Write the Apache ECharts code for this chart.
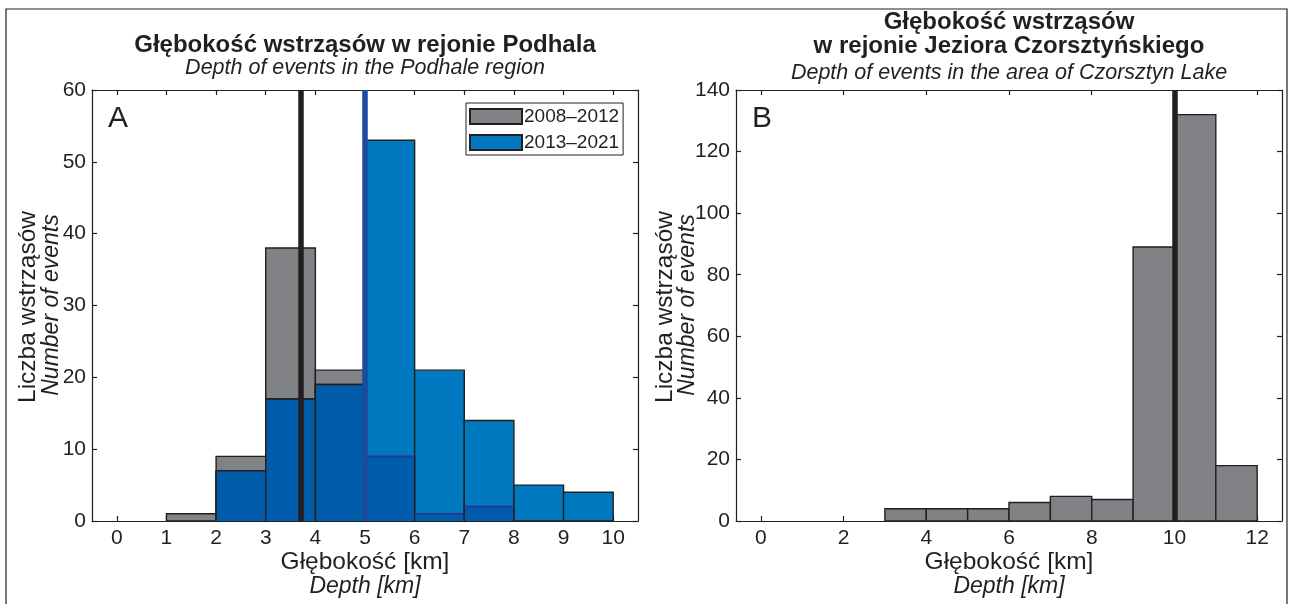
<!DOCTYPE html>
<html><head><meta charset="utf-8">
<script src="https://cdn.jsdelivr.net/npm/echarts@6/dist/echarts.min.js"></script>
<style>html,body{margin:0;padding:0;background:#fff}#c{width:1289px;height:604px}</style>
</head><body><div id="c"></div>
<script>
// ---- data ----
const binEdgesA = [0,1,2,3,4,5,6,7,8,9,10];
const counts2008 = [0,1,9,38,21,9,1,2,0,0];
const counts2013 = [0,0,7,17,19,53,21,14,5,4];
const binEdgesB = [0,1,2,3,4,5,6,7,8,9,10,11,12];
const countsB = [0,0,0,4,4,4,6,8,7,89,132,18];
const xTicksA = [0,1,2,3,4,5,6,7,8,9,10];
const yTicksA = [0,10,20,30,40,50,60];
const xTicksB = [0,2,4,6,8,10,12];
const yTicksB = [0,20,40,60,80,100,120,140];
const mean2008A = 3.7;
const mean2013A = 5.0;
const meanB = 10.0;
const legendNames = ['2008\u20132012','2013\u20132021'];

const INK = '#231f20', GREY = '#808285', BLUE = '#0079c1', DARKBLUE = '#005ca9', NAVY = '#2e3192', LINEBLUE = '#1b4b9f';
const FONT = 'Liberation Sans';

function toBins(edges, counts){
  const out = [];
  counts.forEach((c,i)=>{ if(c>0) out.push([edges[i], edges[i+1], c]); });
  return out;
}
const overlapA = [];
counts2008.forEach((g,i)=>{ const b = counts2013[i]; const m = Math.min(g,b); if(m>0) overlapA.push([binEdgesA[i], binEdgesA[i+1], m, g<b?1:0]); });

function barRender(fill){
  return function(params, api){
    const p0 = api.coord([api.value(0), api.value(2)]);
    const p1 = api.coord([api.value(1), 0]);
    return {type:'rect', shape:{x:p0[0], y:p0[1], width:p1[0]-p0[0], height:p1[1]-p0[1]},
      style:{fill:fill, stroke:INK, lineWidth:1.4}};
  };
}
function overlapRender(params, api){
  const p0 = api.coord([api.value(0), api.value(2)]);
  const p1 = api.coord([api.value(1), 0]);
  const topCol = api.value(3) ? NAVY : INK;
  return {type:'group', children:[
    {type:'rect', shape:{x:p0[0], y:p0[1], width:p1[0]-p0[0], height:p1[1]-p0[1]}, style:{fill:DARKBLUE}},
    {type:'line', shape:{x1:p0[0], y1:p0[1], x2:p0[0], y2:p1[1]}, style:{stroke:INK, lineWidth:1.4}},
    {type:'line', shape:{x1:p1[0], y1:p0[1], x2:p1[0], y2:p1[1]}, style:{stroke:INK, lineWidth:1.4}},
    {type:'line', shape:{x1:p0[0], y1:p0[1], x2:p1[0], y2:p0[1]}, style:{stroke:topCol, lineWidth:1.6}}
  ]};
}

function xAx(grid, min, max, ticks, pos, labels){
  return {type:'value', gridIndex:grid, position:pos, min:min, max:max,
    axisLine:{show:true, onZero:false, lineStyle:{color:INK, width:1.2}},
    splitLine:{show:false},
    axisTick:{show:true, inside:true, length:5, customValues:ticks, lineStyle:{color:INK, width:1.2}},
    axisLabel:{show:labels, customValues:ticks, margin:7, color:INK, fontFamily:FONT, fontSize:21}};
}
function yAx(grid, min, max, ticks, pos, labels){
  return {type:'value', gridIndex:grid, position:pos, min:min, max:max,
    axisLine:{show:true, onZero:false, lineStyle:{color:INK, width:1.2}},
    splitLine:{show:false},
    axisTick:{show:true, inside:true, length:5, customValues:ticks, lineStyle:{color:INK, width:1.2}},
    axisLabel:{show:labels, customValues:ticks, margin:6, color:INK, fontFamily:FONT, fontSize:21}};
}
function txt(x,y,text,size,opts){
  return {type:'text', x:x, y:y, z:100, style:Object.assign({text:text, fill:INK, fontFamily:FONT, fontSize:size, align:'center', verticalAlign:'middle'}, opts||{})};
}

const chart = echarts.init(document.getElementById('c'), null, {renderer:'canvas'});
chart.setOption({
  backgroundColor:'#fff',
  animation:false,
  grid:[
    {left:92, top:90, width:546, height:431},
    {left:736, top:90, width:546, height:431}
  ],
  xAxis:[
    xAx(0,-0.5,10.5,xTicksA,'bottom',true),
    xAx(0,-0.5,10.5,xTicksA,'top',false),
    xAx(1,-0.6,12.6,xTicksB,'bottom',true),
    xAx(1,-0.6,12.6,xTicksB,'top',false)
  ],
  yAxis:[
    yAx(0,0,60,yTicksA,'left',true),
    yAx(0,0,60,yTicksA,'right',false),
    yAx(1,0,140,yTicksB,'left',true),
    yAx(1,0,140,yTicksB,'right',false)
  ],
  legend:{
    data:legendNames, orient:'vertical', left:466, top:103,
    itemWidth:52, itemHeight:15, itemGap:7, padding:[4,4,3,3],
    backgroundColor:'#fff', borderColor:INK, borderWidth:1, borderRadius:0,
    icon:'rect',
    textStyle:{color:INK, fontFamily:FONT, fontSize:19, padding:[0,0,0,-3]}
  },
  series:[
    {name:legendNames[0], type:'custom', xAxisIndex:0, yAxisIndex:0, z:2,
     itemStyle:{color:GREY, borderColor:INK, borderWidth:1.3},
     encode:{x:[0,1], y:2}, data:toBins(binEdgesA, counts2008), renderItem:barRender(GREY)},
    {name:legendNames[1], type:'custom', xAxisIndex:0, yAxisIndex:0, z:3,
     itemStyle:{color:BLUE, borderColor:INK, borderWidth:1.3},
     encode:{x:[0,1], y:2}, data:toBins(binEdgesA, counts2013), renderItem:barRender(BLUE)},
    {name:'overlap', type:'custom', xAxisIndex:0, yAxisIndex:0, z:4,
     encode:{x:[0,1], y:2}, data:overlapA, renderItem:overlapRender},
    {name:'B', type:'custom', xAxisIndex:2, yAxisIndex:2, z:2,
     encode:{x:[0,1], y:2}, data:toBins(binEdgesB, countsB), renderItem:barRender(GREY)},
    {name:'linesA', type:'line', xAxisIndex:0, yAxisIndex:0, z:10, data:[],
     markLine:{silent:true, symbol:['none','none'], label:{show:false}, z:10, animation:false,
       data:[{xAxis:mean2008A, lineStyle:{color:INK, width:5.5, type:'solid'}},
             {xAxis:mean2013A, lineStyle:{color:LINEBLUE, width:5.5, type:'solid'}}]}},
    {name:'linesB', type:'line', xAxisIndex:2, yAxisIndex:2, z:10, data:[],
     markLine:{silent:true, symbol:['none','none'], label:{show:false}, z:10, animation:false,
       data:[{xAxis:meanB, lineStyle:{color:INK, width:5.5, type:'solid'}}]}}
  ],
  graphic:[
    {type:'rect', shape:{x:6, y:9, width:1281, height:620}, style:{fill:'none', stroke:INK, lineWidth:1.2}, z:0, silent:true},
    txt(365,45,'Głębokość wstrząsów w rejonie Podhala',24,{fontWeight:'bold'}),
    txt(365,68,'Depth of events in the Podhale region',21.5,{fontStyle:'italic'}),
    txt(1009,22,'Głębokość wstrząsów',24,{fontWeight:'bold'}),
    txt(1009,46,'w rejonie Jeziora Czorsztyńskiego',24,{fontWeight:'bold'}),
    txt(1009,73,'Depth of events in the area of Czorsztyn Lake',21.5,{fontStyle:'italic'}),
    txt(118,119,'A',30),
    txt(762,119,'B',30),
    txt(365,562,'Głębokość [km]',24.5),
    txt(365,587,'Depth [km]',23,{fontStyle:'italic'}),
    txt(1009,562,'Głębokość [km]',24.5),
    txt(1009,587,'Depth [km]',23,{fontStyle:'italic'}),
    Object.assign(txt(0,0,'Liczba wstrząsów',24.5),{x:28,y:307,rotation:Math.PI/2}),
    Object.assign(txt(0,0,'Number of events',23,{fontStyle:'italic'}),{x:52,y:305,rotation:Math.PI/2}),
    Object.assign(txt(0,0,'Liczba wstrząsów',24.5),{x:665,y:307,rotation:Math.PI/2}),
    Object.assign(txt(0,0,'Number of events',23,{fontStyle:'italic'}),{x:688,y:305,rotation:Math.PI/2})
  ]
});
</script></body></html>
